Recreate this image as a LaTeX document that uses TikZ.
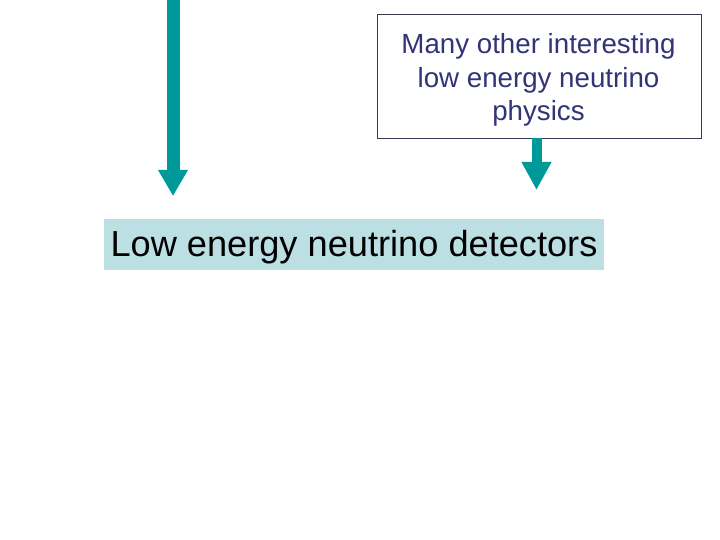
\documentclass[tikz,border=0pt]{standalone}
\usepackage{fontspec}
\setmainfont{Liberation Sans}
\usetikzlibrary{arrows.meta}
\definecolor{teal1}{HTML}{009999}
\definecolor{navytext}{HTML}{333377}
\definecolor{boxline}{HTML}{3A3A55}
\definecolor{lightfill}{HTML}{BBDFE3}
\tikzset{
  bigarrow/.style={draw=teal1, line width=#1},
  infobox/.style={draw=boxline, line width=0.8pt, fill=white, minimum width=324pt, minimum height=124pt, inner sep=0pt},
  infotext/.style={inner sep=0pt, align=center, text=navytext, font=\fontsize{27.7}{33.3}\selectfont},
  labelbox/.style={fill=lightfill, minimum width=500pt, minimum height=51pt, inner sep=0pt, text=black, text height=32.4pt, text depth=8pt, font=\fontsize{36.2}{40}\selectfont}
}
\begin{document}
\begin{tikzpicture}[x=1pt,y=-1pt]
\useasboundingbox (0,0) rectangle (720,540);
\coordinate (ltop) at (173,0);
\coordinate (lend) at (173,196);
\node[infobox] (other) at (539,76) {};
\node[infotext] (othertext) at (538.5,80) {Many other interesting\\low energy neutrino\\physics};
\coordinate (rend) at (536.5,190);
\node[labelbox] (det) at (354,244.5) {Low energy neutrino detectors};
\draw[bigarrow=13pt, -{Triangle[width=28pt,length=26pt]}, teal1] (ltop) -- (lend);
\draw[bigarrow=10pt, -{Triangle[width=28pt,length=28pt]}, teal1] (rend |- other.south) -- (rend);
\end{tikzpicture}
\end{document}
